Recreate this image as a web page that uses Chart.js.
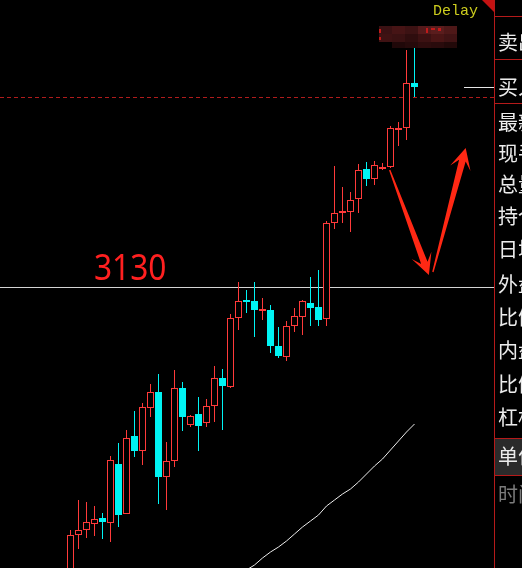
<!DOCTYPE html>
<html>
<head>
<meta charset="utf-8">
<script src="https://cdn.jsdelivr.net/npm/chart.js@4.4.1/dist/chart.umd.min.js"></script>
<style>
  html, body { margin: 0; padding: 0; background: #000; overflow: hidden; }
  canvas { display: block; }
</style>
</head>
<body>
<canvas id="kline" width="522" height="568" style="width:522px;height:568px"></canvas>
<script>
// Daily OHLC bars
const opens  = [2839, 2882, 2887, 2893, 2899, 2894, 2953, 2903, 2981, 2966, 3009, 3025, 2940, 2956, 3029, 2992, 3003, 2994, 3011, 3039, 3030, 3099, 3117, 3116, 3106, 3107, 3071, 3060, 3091, 3100, 3114, 3110, 3098, 3194, 3204, 3205, 3218, 3248, 3238, 3248, 3250, 3287, 3289, 3334];
const highs  = [2887, 2917, 2915, 2911, 2904, 2961, 2974, 2987, 3006, 3014, 3033, 3043, 2975, 3047, 3035, 3002, 3020, 3018, 3051, 3048, 3103, 3135, 3127, 3135, 3119, 3112, 3090, 3096, 3109, 3117, 3140, 3147, 3196, 3251, 3230, 3225, 3253, 3255, 3256, 3254, 3291, 3295, 3367, 3370];
const lows   = [2835, 2868, 2879, 2881, 2878, 2875, 2890, 2903, 2960, 2952, 3000, 2913, 2907, 2950, 2986, 2990, 2966, 2990, 2995, 2987, 3029, 3087, 3104, 3080, 3097, 3064, 3059, 3056, 3085, 3082, 3091, 3091, 3091, 3188, 3194, 3185, 3204, 3231, 3232, 3247, 3249, 3271, 3277, 3320];
const closes = [2882, 2887, 2895, 2898, 2895, 2957, 2902, 2979, 2966, 3010, 3025, 2940, 2956, 3029, 3000, 3001, 2991, 3011, 3039, 3031, 3099, 3116, 3115, 3107, 3108, 3071, 3061, 3091, 3101, 3116, 3109, 3097, 3194, 3204, 3206, 3217, 3247, 3238, 3252, 3250, 3289, 3289, 3334, 3330];

// Long moving average (only its tail is inside the visible window)
const maValues = [null, null, null, null, null, null, null, null, null, null, null, null, null, null, null, null, null, null, null, null, null,
  2839, 2847, 2852, 2859, 2865, 2870, 2876, 2883, 2890, 2896, 2902, 2911, 2917, 2923, 2928, 2935, 2943, 2951, 2958, 2967, 2976, 2985, 2993];

// Reference levels
const levelPrice = 3130;   // marked support level
const settlePrice = 3320;  // dashed reference line
const levelText = '3130';

// Quote panel captions on the right
const panelLabels = ['卖出', '买入', '最新', '现手', '总量', '持仓', '日增', '外盘', '比例', '内盘', '比例', '杠杆', '单位', '时间'];

const RED = '#ff3a3a';
const CYAN = '#00f4f4';
const idx = closes.map((_, i) => i);
const rising = idx.map(i => closes[i] >= opens[i]);
const candleColors = rising.map(r => r ? RED : CYAN);

const overlay = {
  id: 'overlay',
  beforeDatasetsDraw(chart) {
    const { ctx, chartArea: a, scales: { y } } = chart;
    ctx.save();
    // support level line
    const ly = Math.round(y.getPixelForValue(levelPrice)) + 0.5;
    ctx.strokeStyle = '#d4d4d4';
    ctx.lineWidth = 1;
    ctx.beginPath(); ctx.moveTo(a.left, ly); ctx.lineTo(a.right, ly); ctx.stroke();
    // dashed reference line
    const dy = Math.round(y.getPixelForValue(settlePrice)) + 0.5;
    ctx.strokeStyle = '#b01c1c';
    ctx.setLineDash([4, 3]);
    ctx.beginPath(); ctx.moveTo(a.left, dy); ctx.lineTo(a.right, dy); ctx.stroke();
    ctx.setLineDash([]);
    ctx.restore();
  },
  afterDatasetsDraw(chart) {
    const { ctx, chartArea: a, scales: { x, y } } = chart;
    const last = closes.length - 1;
    ctx.save();

    // level caption
    const ly = Math.round(y.getPixelForValue(levelPrice));
    ctx.fillStyle = '#ff2020';
    ctx.font = '36px "Noto Sans"';
    ctx.textBaseline = 'alphabetic';
    ctx.save();
    ctx.translate(94, ly - 7);
    ctx.scale(0.88, 1);
    ctx.fillText(levelText, 0, 0);
    ctx.restore();

    // last price tick on the right edge
    const cy = Math.round(y.getPixelForValue(closes[last])) + 0.5;
    ctx.strokeStyle = '#e6e6e6';
    ctx.lineWidth = 1;
    ctx.beginPath(); ctx.moveTo(a.right - 30, cy); ctx.lineTo(a.right, cy); ctx.stroke();

    // hand-drawn style arrows, tapering from tail to head
    const arrow = (t, p) => {
      const tx = x.getPixelForValue(t[0]), ty = y.getPixelForValue(t[1]);
      const px = x.getPixelForValue(p[0]), py = y.getPixelForValue(p[1]);
      const dx = px - tx, dyy = py - ty, len = Math.hypot(dx, dyy);
      const ux = dx / len, uy = dyy / len, nx = -uy, ny = ux;
      const nk = [px - ux * 13, py - uy * 13];
      const bs = [px - ux * 21, py - uy * 21];
      ctx.beginPath();
      ctx.moveTo(tx + nx * 0.7, ty + ny * 0.7);
      ctx.lineTo(nk[0] + nx * 3.4, nk[1] + ny * 3.4);
      ctx.lineTo(bs[0] + nx * 10.5, bs[1] + ny * 10.5);
      ctx.lineTo(px, py);
      ctx.lineTo(bs[0] - nx * 10.5, bs[1] - ny * 10.5);
      ctx.lineTo(nk[0] - nx * 3.4, nk[1] - ny * 3.4);
      ctx.lineTo(tx - nx * 0.7, ty - ny * 0.7);
      ctx.closePath();
      ctx.fill();
    };
    ctx.fillStyle = '#ff2814';
    arrow([39.9, 3247], [44.8, 3142]);
    arrow([45.3, 3145], [49.4, 3269]);

    // pixelated high-price tag above the last bars
    const mx = Math.round(x.getPixelForValue(last)) - 36;
    const my = Math.round(y.getPixelForValue(highs[last])) - 21;
    const grid = [
      ['#3a1113', '#461415', '#3c1213', '#541a1b', '#5a1d1d', '#4e1818'],
      ['#3f1213', '#3a1112', '#2f0d0e', '#3c1112', '#4a1515', '#401314'],
      [null, '#200809', '#260a0b', '#2e0c0d', '#2a0b0c', '#220909']
    ];
    grid.forEach((row, r) => row.forEach((c, k) => {
      if (!c) return;
      ctx.fillStyle = c;
      ctx.fillRect(mx + k * 13, my + r * 8, 13, r === 2 ? 6 : 8);
    }));
    ctx.fillStyle = '#c01a1a';
    ctx.fillRect(mx, my + 3, 2, 4);
    ctx.fillRect(mx, my + 11, 2, 3);
    ctx.fillRect(mx + 47, my + 2, 2, 5);
    ctx.fillRect(mx + 52, my + 2, 4, 2);
    ctx.fillRect(mx + 59, my + 2, 3, 3);

    // delay flag
    ctx.fillStyle = '#c41212';
    ctx.beginPath();
    ctx.moveTo(a.right - 12, a.top); ctx.lineTo(a.right, a.top); ctx.lineTo(a.right, a.top + 12);
    ctx.closePath(); ctx.fill();
    ctx.fillStyle = '#cccc1e';
    ctx.font = '15px "Liberation Mono"';
    ctx.fillText('Delay', a.right - 61, a.top + 15);
    ctx.restore();
  },
  afterDraw(chart) {
    const { ctx, chartArea: a, height, width } = chart;
    const left = a.right;
    ctx.save();
    ctx.fillStyle = '#000';
    ctx.fillRect(left, 0, width - left, height);
    // highlighted unit cell
    ctx.fillStyle = '#2b2b2b';
    ctx.fillRect(left + 1, 439, width - left - 1, 36);
    // panel frame
    ctx.fillStyle = '#b51a1a';
    ctx.fillRect(left, 0, 1, height);
    [16, 59, 103, 438, 475].forEach(yy => ctx.fillRect(left, yy, width - left, 1));
    // captions
    const rows = [42, 87, 122, 153, 184, 216, 249, 284, 317, 350, 384, 417, 456, 494];
    ctx.font = '20px "Noto Sans CJK SC"';
    ctx.textBaseline = 'middle';
    panelLabels.forEach((t, i) => {
      ctx.fillStyle = i === panelLabels.length - 1 ? '#7c7c7c' : '#ececec';
      ctx.fillText(t, left + 4, rows[i]);
    });
    ctx.restore();
  }
};

new Chart(document.getElementById('kline'), {
  type: 'bar',
  data: {
    datasets: [
      {
        label: 'body',
        data: idx.map(i => ({ x: i, y: [Math.min(opens[i], closes[i]), Math.max(opens[i], closes[i])] })),
        backgroundColor: rising.map(r => r ? '#000000' : CYAN),
        borderColor: candleColors,
        borderWidth: 1,
        borderSkipped: false,
        barThickness: 7,
        grouped: false,
        inflateAmount: 0,
        order: 0
      },
      {
        label: 'wick',
        data: idx.map(i => ({ x: i, y: [lows[i], highs[i]] })),
        backgroundColor: candleColors,
        borderWidth: 0,
        barThickness: 1,
        grouped: false,
        inflateAmount: 0,
        order: 1
      },
      {
        type: 'line',
        label: 'MA',
        data: idx.map(i => ({ x: i, y: maValues[i] })),
        borderColor: '#ececec',
        borderWidth: 1,
        pointRadius: 0,
        tension: 0,
        spanGaps: false,
        order: 2
      }
    ]
  },
  options: {
    responsive: false,
    devicePixelRatio: 1,
    animation: false,
    layout: { padding: { left: 0, right: 28, top: 0, bottom: 0 } },
    plugins: { legend: { display: false }, tooltip: { enabled: false } },
    events: [],
    scales: {
      x: { type: 'linear', display: false, min: -8.8125, max: 52.9375, offset: false, grid: { display: false } },
      y: { type: 'linear', display: false, min: 2849, max: 3417, grid: { display: false } }
    }
  },
  plugins: [overlay]
});
</script>
</body>
</html>
